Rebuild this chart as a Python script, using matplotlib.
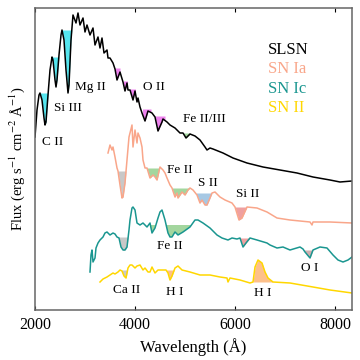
import numpy as np
import matplotlib
import matplotlib.pyplot as plt
matplotlib.use('Agg')

plt.rcParams['font.family'] = ['Liberation Serif', 'DejaVu Serif']
plt.rcParams['mathtext.fontset'] = 'stix'

# spectra (wavelength in A, flux in arbitrary offset units)
slsn_wave = [2000, 2040, 2080, 2100, 2140, 2180, 2200, 2220, 2260, 2300, 2340, 2360, 2400, 2420,
             2440, 2480, 2520, 2540, 2580, 2620, 2660, 2680, 2720, 2760, 2820, 2860, 2900, 2960,
             3000, 3040, 3100, 3160, 3200, 3260, 3300, 3340, 3380, 3440, 3460, 3500, 3560, 3600,
             3640, 3700, 3760, 3800, 3840, 3860, 3900, 3960, 4000, 4040, 4060, 4100, 4140, 4200,
             4260, 4340, 4400, 4460, 4540, 4560, 4640, 4700, 4800, 4900, 4960, 5020, 5100, 5200,
             5300, 5400, 5440, 5500, 5560, 5760, 5960, 6240, 6560, 6900, 7240, 7560, 7900, 8100, 8340]
slsn_flux = [173, 200, 215, 217, 210, 192, 185, 188, 215, 240, 253, 250, 230, 223,
             230, 255, 275, 280, 270, 240, 217, 225, 270, 295, 287, 297, 285, 292,
             278, 285, 275, 282, 265, 273, 262, 272, 257, 260, 252, 252, 247, 241,
             230, 238, 228, 219, 227, 220, 220, 210, 219, 208, 212, 203, 197, 189,
             199, 197, 193, 179, 188, 191, 188, 185, 182, 177, 177, 172, 176, 174,
             170, 163, 160, 162, 161, 157, 152, 147, 143, 140, 137, 133, 130, 128, 129]

ia_wave = [3460, 3500, 3540, 3560, 3600, 3640, 3660, 3700, 3740, 3760, 3800, 3840, 3880, 3940,
           3960, 4000, 4040, 4060, 4100, 4140, 4160, 4200, 4240, 4300, 4360, 4400, 4440, 4500,
           4560, 4600, 4640, 4700, 4740, 4800, 4840, 4860, 4940, 5000, 5060, 5100, 5160, 5240,
           5300, 5340, 5400, 5440, 5500, 5540, 5600, 5700, 5800, 5940, 6000, 6080, 6140, 6240,
           6440, 6640, 6840, 7100, 7500, 7540, 7560, 7900, 8340]
ia_flux = [157, 165, 160, 163, 153, 142, 139, 125, 112, 113, 127, 150, 173, 185,
           163, 180, 167, 177, 172, 163, 150, 142, 142, 132, 135, 133, 130, 143,
           140, 137, 132, 125, 122, 113, 117, 112, 118, 115, 120, 122, 120, 115,
           107, 110, 105, 105, 112, 117, 118, 113, 110, 107, 103, 90, 92, 103,
           102, 98, 92, 90, 88, 85, 88, 88, 87]

ic_wave = [3100, 3120, 3140, 3160, 3200, 3220, 3260, 3300, 3360, 3400, 3440, 3500, 3560, 3600,
           3640, 3680, 3720, 3760, 3800, 3840, 3880, 3900, 3940, 3960, 4000, 4040, 4100, 4160,
           4240, 4300, 4340, 4400, 4460, 4500, 4540, 4600, 4660, 4700, 4740, 4800, 4860, 4960,
           5100, 5200, 5260, 5360, 5500, 5640, 5740, 5860, 5940, 6040, 6100, 6160, 6220, 6300,
           6440, 6640, 6700, 6840, 6960, 7100, 7300, 7360, 7400, 7500, 7560, 7700, 7840, 7960,
           8060, 8160, 8260, 8340]
ic_flux = [38, 55, 60, 48, 52, 62, 67, 70, 73, 77, 78, 75, 77, 76,
           73, 72, 63, 60, 60, 63, 80, 90, 102, 103, 100, 87, 85, 87,
           83, 87, 77, 82, 92, 98, 100, 90, 77, 73, 73, 78, 75, 78,
           83, 90, 90, 87, 82, 75, 72, 70, 72, 71, 72, 63, 67, 72,
           70, 67, 65, 62, 63, 60, 63, 61, 58, 52, 60, 63, 62, 55,
           50, 48, 50, 53]

ii_wave = [3300, 3360, 3400, 3440, 3500, 3560, 3600, 3660, 3700, 3740, 3780, 3820, 3860, 3900,
           3940, 4000, 4040, 4100, 4160, 4200, 4260, 4300, 4340, 4400, 4460, 4560, 4620, 4660,
           4700, 4740, 4800, 4860, 4940, 5020, 5100, 5300, 5500, 5700, 5840, 5860, 5900, 6100,
           6300, 6360, 6400, 6460, 6540, 6600, 6660, 6760, 7100, 7560, 7900, 8340]
ii_flux = [28, 31, 32, 33, 35, 37, 36, 38, 40, 39, 34, 32, 42, 45,
           45, 42, 44, 45, 40, 42, 38, 38, 43, 37, 40, 40, 40, 37,
           30, 34, 42, 44, 40, 39, 38, 35, 35, 33, 32, 28, 32, 30,
           27, 28, 43, 50, 47, 38, 32, 28, 27, 23, 20, 17]

# line features: (start, end, continuum level, colour, emission?)
slsn_feat = [(2100, 2280, 217, '#55E5EE', False), (2340, 2480, 253, '#55E5EE', False),
             (2540, 2760, 280, '#55E5EE', False), (3590, 3700, 242, 'violet', False),
             (3770, 3850, 229, 'violet', False), (3900, 4010, 221, 'violet', False),
             (4150, 4320, 201, 'violet', False), (4380, 4600, 194, 'violet', False),
             (4900, 5100, 177, '#A3D69E', False)]
ia_feat = [(3640, 3860, 139, '#C8C8C8', False), (4230, 4480, 142, '#A3D69E', False),
           (4740, 5110, 122, '#A3D69E', False), (5230, 5540, 117, '#A6C8E4', False),
           (5990, 6250, 103, '#EFA0A0', False)]
ic_feat = [(3650, 3870, 73, '#C8C8C8', False), (4280, 5110, 85, '#A3D69E', False),
           (6090, 6300, 72, '#EFA0A0', False), (7370, 7570, 60, '#CFAFAF', False)]
ii_feat = [(3700, 3870, 40, '#C8C8C8', False), (4620, 4800, 40, '#FDC08A', False),
           (6340, 6780, 28, '#FDC08A', True)]

labels = [('C II', 2360, 168), ('Si III', 2660, 202), ('Mg II', 3100, 223), ('O II', 4380, 223),
          ('Fe II/III', 5380, 191), ('Fe II', 4900, 140), ('S II', 5460, 127), ('Si II', 6260, 116),
          ('Fe II', 4700, 64), ('O I', 7500, 42), ('Ca II', 3840, 20), ('H I', 4800, 18),
          ('H I', 6560, 17)]

names = ['SLSN', 'SN Ia', 'SN Ic', 'SN II']
colors = ['black', '#F9A68A', '#1A9690', '#FFD700']


def shade(ax, wave, flux, feats):
    wave = np.asarray(wave, float)
    flux = np.asarray(flux, float)
    for a, b, level, c, emis in feats:
        # resample the drawn polyline inside the window so the edges are exact
        w = np.linspace(a, b, 300)
        f = np.interp(w, wave, flux)
        mask = f > level if emis else f < level
        ax.fill_between(w, f, level, where=mask, interpolate=True, color=c, lw=0, zorder=1)


fig = plt.figure(figsize=(3.6, 3.6), dpi=100)
ax = fig.add_axes([35 / 360, 50 / 360, 317 / 360, 302 / 360])

spectra = [(slsn_wave, slsn_flux, slsn_feat), (ia_wave, ia_flux, ia_feat),
           (ic_wave, ic_flux, ic_feat), (ii_wave, ii_flux, ii_feat)]
for (wave, flux, feats), c in zip(spectra, colors):
    shade(ax, wave, flux, feats)
    ax.plot(wave, flux, color=c, lw=1.1, zorder=2)

for txt, x, y in labels:
    ax.text(x, y, txt, fontsize=9.5, ha='center', va='center')

for i, (n, c) in enumerate(zip(names, colors)):
    ax.text(6660, 260 - i * 19.3, n, color=c, fontsize=12, ha='left', va='center')

ax.set_xlim(2000, 8340)
ax.set_ylim(0, 302)
ax.set_xticks([2000, 4000, 6000, 8000])
ax.set_yticks([])
ax.tick_params(axis='x', direction='in', top=True, length=3, labelsize=11.5, pad=5)
for s in ax.spines.values():
    s.set_color('#666666')
    s.set_linewidth(1.1)
ax.set_xlabel('Wavelength (Å)', fontsize=12)
ax.set_ylabel(r'Flux (erg s$^{-1}$ cm$^{-2}$ Å$^{-1}$)', fontsize=10.5, labelpad=6)

plt.savefig('out.png', dpi=100)
plt.close()
